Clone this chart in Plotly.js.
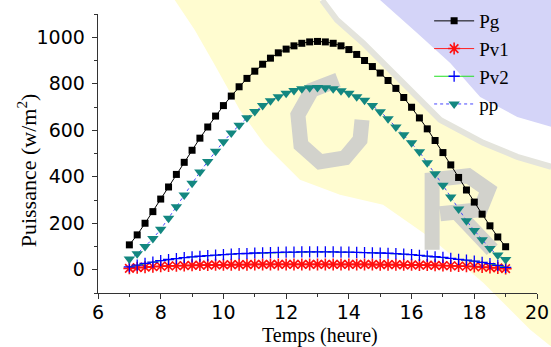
<!DOCTYPE html>
<html>
<head>
<meta charset="utf-8">
<script src="https://cdn.plot.ly/plotly-3.0.1.min.js"></script>
<style>html,body{margin:0;padding:0;background:#fff;}#chart{width:551px;height:347px;}</style>
</head>
<body>
<div id="chart"></div>
<script>
// ---- data ----
const hours = [7,7.25,7.5,7.75,8,8.25,8.5,8.75,9,9.25,9.5,9.75,10,10.25,10.5,10.75,11,11.25,11.5,11.75,12,12.25,12.5,12.75,13,
               13.25,13.5,13.75,14,14.25,14.5,14.75,15,15.25,15.5,15.75,16,16.25,16.5,16.75,17,17.25,17.5,17.75,18,18.25,18.5,18.75,19];
const Pg  = [107,150,200,250,304,356,410,462,514,566,614,661,706,747,787,823,854,884,910,933,949,963,974,980,982,
             980,974,963,947,926,900,874,846,814,780,741,699,653,606,556,504,451,397,343,291,239,189,141,99];
const Pv1 = [6,9,11,13,15,16,17,18,19,20,20,21,21,22,22,22,23,23,23,23,23,23,23,23,23,
             23,23,23,23,23,23,23,22,22,22,21,21,20,20,19,18,17,16,15,14,12,10,8,5];
const Pv2 = [12,20,27,33,39,44,48,52,55,58,61,63,65,67,69,70,72,73,74,75,76,76,77,77,77,
             77,77,76,76,75,74,73,72,71,69,67,65,62,59,56,53,49,45,41,37,32,26,19,10];
const pp  = [46,69,100,134,174,221,271,321,372,420,466,510,551,588,621,654,681,706,727,744,759,771,779,783,784,
             783,779,770,759,744,729,706,680,649,614,581,546,507,460,413,363,313,261,211,169,129,91,63,44];
const seriesNames = ["Pg","Pv1","Pv2","pp"];
const xTickVals = [6,8,10,12,14,16,18,20];
const yTickVals = [0,200,400,600,800,1000];

// ---- decorative watermark (pixel -> paper helper) ----
const L=98.4, R=536.7, T=14, B=293.3;
function P(px,py){return ((px-L)/(R-L)).toFixed(4)+","+((B-py)/(B-T)).toFixed(4);}
function path(pts,close){return "M"+pts.map(p=>P(p[0],p[1])).join("L")+(close?"Z":"");}
const yellow = path([[175,0],[320,0],[337,20],[363,43],[403,83],[440,120],[483,143],[517,157],[551,167],[551,347],[530,330],[483,283],[433,240],[383,205],[340,195],[300,180],[265,145],[240,110],[215,65],[195,30]],true);
const lavender = path([[380,0],[551,0],[551,127],[517,117],[480,97],[450,63],[417,33]],true);
const stripe = path([[322,0],[337,20],[363,43],[403,83],[440,120],[483,143],[517,157],[551,167]],false);
const letterC = path([[338,80],[312,90],[298,115],[301,145],[320,162],[345,158],[360,140],[362,120]],false);
const letterR = path([[432,250],[432,180],[468,176],[488,190],[480,210],[440,214]],false);
const letterR2 = path([[458,214],[492,250]],false);
const shapes = [
  {type:"path",xref:"paper",yref:"paper",path:yellow,fillcolor:"#fffcd0",line:{width:0},layer:"below"},
  {type:"path",xref:"paper",yref:"paper",path:lavender,fillcolor:"#d4d4f8",line:{width:0},layer:"below"},
  {type:"path",xref:"paper",yref:"paper",path:stripe,line:{color:"#e4e4dc",width:6},layer:"below"},
  {type:"path",xref:"paper",yref:"paper",path:letterC,line:{color:"#d2d2cc",width:15},layer:"below"},
  {type:"path",xref:"paper",yref:"paper",path:letterR,line:{color:"#d2d2cc",width:15},layer:"below"},
  {type:"path",xref:"paper",yref:"paper",path:letterR2,line:{color:"#d2d2cc",width:15},layer:"below"}
];

const traces = [
  {x:hours,y:Pg,name:seriesNames[0],mode:"lines+markers",line:{color:"#000",width:1},
   marker:{symbol:"square",size:7,color:"#000"}},
  {x:hours,y:Pv1,name:seriesNames[1],mode:"lines+markers",line:{color:"#ff2020",width:1},
   marker:{symbol:"asterisk-open",size:10,color:"#ff1010",line:{color:"#ff1010",width:1.6}}},
  {x:hours,y:Pv2,name:seriesNames[2],mode:"lines+markers",line:{color:"#20e020",width:1},
   marker:{symbol:"cross-thin-open",size:8,color:"#0000ff",line:{color:"#0000ff",width:1.3}}},
  {x:hours,y:pp,name:seriesNames[3],mode:"lines+markers",line:{color:"#4444ff",width:1,dash:"dot"},
   marker:{symbol:"triangle-down",size:10,color:"#138780"}}
];

const tickFont = {family:"DejaVu Sans, sans-serif",size:19,color:"#000"};
const serif = "Liberation Serif, Times New Roman, serif";
const layout = {
  width:551,height:347,
  margin:{l:L,r:551-R,t:T,b:347-B,autoexpand:false},
  paper_bgcolor:"rgba(0,0,0,0)",plot_bgcolor:"rgba(0,0,0,0)",
  showlegend:true,
  legend:{x:(429-L)/(R-L),y:(B-2)/(B-T),xanchor:"left",yanchor:"top",bgcolor:"rgba(0,0,0,0)",
          font:{family:serif,size:19,color:"#000"},tracegroupgap:0,itemwidth:40},
  xaxis:{range:[6,20],tickvals:xTickVals,ticks:"outside",ticklen:5,tickwidth:1,tickcolor:"#333",
         showline:true,linecolor:"#333",linewidth:1.3,showgrid:false,zeroline:false,mirror:false,
         tickfont:tickFont,ticklabelstandoff:-3,automargin:false,
         minor:{dtick:1,ticks:"outside",ticklen:3,tickcolor:"#333",showgrid:false}},
  yaxis:{range:[-100,1100],tickvals:yTickVals,ticks:"outside",ticklen:5,tickwidth:1,tickcolor:"#333",
         showline:true,linecolor:"#333",linewidth:1.3,showgrid:false,zeroline:false,
         tickfont:tickFont,ticklabelstandoff:3,automargin:false,
         minor:{dtick:100,ticks:"outside",ticklen:3,tickcolor:"#333",showgrid:false}},
  annotations:[
    {text:"Puissance (w/m<sup>2</sup>)",textangle:-90,xref:"paper",yref:"paper",
     x:(27-L)/(R-L),y:(B-170)/(B-T),xanchor:"center",yanchor:"middle",showarrow:false,
     font:{family:serif,size:22,color:"#000"}},
    {text:"Temps (heure)",xref:"paper",yref:"paper",
     x:(320-L)/(R-L),y:(B-348)/(B-T),xanchor:"center",yanchor:"bottom",showarrow:false,
     font:{family:serif,size:20,color:"#000"},borderpad:0}
  ],
  shapes:shapes
};
Plotly.newPlot("chart",traces,layout,{displayModeBar:false,staticPlot:true});
</script>
</body>
</html>
